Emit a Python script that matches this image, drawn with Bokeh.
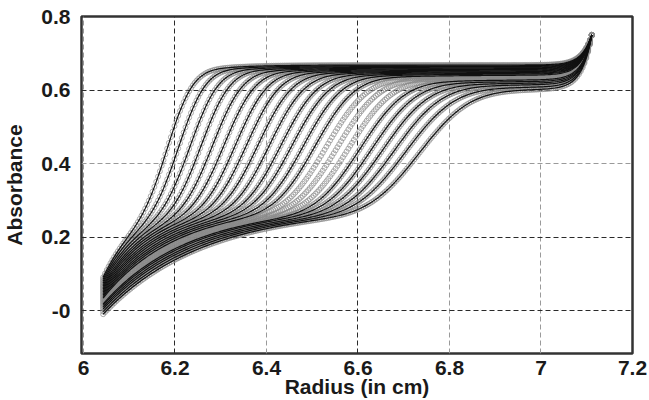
import math
import numpy as np
from bokeh.plotting import figure
from bokeh.models import ColumnDataSource, FixedTicker, Grid, CustomJSTickFormatter
from bokeh.embed import file_html
from bokeh.resources import INLINE

# ---- per-scan values (23 velocity scans) ----
boundary_mid = [6.185, 6.210, 6.235, 6.259, 6.284, 6.309, 6.334, 6.358, 6.383, 6.408,
                6.433, 6.457, 6.482, 6.507, 6.532, 6.556, 6.581, 6.606, 6.631, 6.655,
                6.680, 6.705, 6.735]
boundary_width = [0.060, 0.063, 0.066, 0.068, 0.071, 0.074, 0.076, 0.079, 0.082, 0.084,
                  0.087, 0.090, 0.092, 0.095, 0.098, 0.100, 0.103, 0.106, 0.108, 0.111,
                  0.114, 0.117, 0.120]
plateau_abs = [0.668, 0.666, 0.664, 0.662, 0.660, 0.658, 0.656, 0.654, 0.652, 0.650,
               0.648, 0.646, 0.644, 0.641, 0.638, 0.635, 0.632, 0.629, 0.625, 0.621,
               0.617, 0.611, 0.605]
meniscus_abs = [0.090, 0.085, 0.080, 0.075, 0.070, 0.066, 0.062, 0.058, 0.054, 0.050,
                0.046, 0.042, 0.038, 0.034, 0.030, 0.026, 0.022, 0.018, 0.014, 0.009,
                0.004, -0.003, -0.010]
slow_level = [0.300, 0.299, 0.298, 0.297, 0.296, 0.295, 0.294, 0.293, 0.292, 0.291,
              0.290, 0.289, 0.288, 0.287, 0.286, 0.285, 0.284, 0.283, 0.283, 0.282,
              0.281, 0.281, 0.280]
slow_scale = [0.080, 0.086, 0.093, 0.099, 0.106, 0.112, 0.118, 0.125, 0.131, 0.137,
              0.144, 0.150, 0.156, 0.163, 0.169, 0.175, 0.182, 0.188, 0.194, 0.201,
              0.207, 0.214, 0.220]
fit_shown = [True] * 14 + [False] * 3 + [True] * 6

meniscus_r = 6.043
bottom_r = 7.111
bottom_abs = 0.75
sample_step = 0.004

x_ticks = [6, 6.2, 6.4, 6.6, 6.8, 7, 7.2]
y_ticks = [0, 0.2, 0.4, 0.6, 0.8]

# ---- build scans ----
r = np.arange(meniscus_r, bottom_r + 1e-9, sample_step)
pts_x, pts_y, fit_xs, fit_ys = [], [], [], []
for i in range(len(boundary_mid)):
    b, sp, L = meniscus_abs[i], slow_level[i], slow_scale[i]
    P, rf, w = plateau_abs[i], boundary_mid[i], boundary_width[i]
    slow = b + (sp - b) * (1 - np.exp(-(r - meniscus_r) / L))
    fast = (P - sp) * 0.5 * (1 + np.array([math.erf(v) for v in (r - rf) / w]))
    bottom = (bottom_abs - P) * np.exp((r - bottom_r) / 0.022)
    a = slow + fast + bottom
    pts_x.extend(r.tolist())
    pts_y.extend(a.tolist())
    if fit_shown[i]:
        fit_xs.append(r.tolist())
        fit_ys.append(a.tolist())

pts = ColumnDataSource(dict(x=pts_x, y=pts_y))
fits = ColumnDataSource(dict(xs=fit_xs, ys=fit_ys))

p = figure(width=649, height=400, x_range=(5.9957, 7.2), y_range=(-0.117, 0.8),
           output_backend="svg", toolbar_location=None,
           min_border_left=77, min_border_right=17, min_border_top=16, min_border_bottom=47)
p.background_fill_color = "white"
p.border_fill_color = "white"
p.outline_line_color = "#333333"
p.outline_line_width = 2.5
p.xgrid.visible = False
p.ygrid.visible = False

dark, light = "#2a2a2a", "#9a9a9a"
for dim, ticks, col in [(0, [6.2, 6.6], dark), (0, [6, 6.4, 6.8, 7], light),
                        (1, [0, 0.2, 0.6], dark), (1, [0.4], light)]:
    g = Grid(dimension=dim, ticker=FixedTicker(ticks=ticks),
             grid_line_color=col, grid_line_dash="5 3", grid_line_width=1)
    p.add_layout(g)

p.scatter("x", "y", source=pts, marker="circle", size=5, fill_color=None,
          line_color="#8a8a8a", line_width=0.7)
p.multi_line("xs", "ys", source=fits, line_color="#111111", line_width=1.2)

fmt = CustomJSTickFormatter(code="""
    if (Math.abs(tick) < 1e-9) { return "-0"; }
    return String(Math.round(tick * 10) / 10);
""")
for ax in (p.xaxis[0], p.yaxis[0]):
    ax.formatter = fmt
    ax.major_tick_line_color = None
    ax.minor_tick_line_color = None
    ax.axis_line_color = None
    ax.major_label_text_font = "Liberation Sans"
    ax.major_label_text_font_size = "21px"
    ax.major_label_text_font_style = "bold"
    ax.major_label_text_color = "#1a1a1a"
    ax.major_label_text_line_height = 1.0
    ax.axis_label_text_font = "Liberation Sans"
    ax.axis_label_text_font_size = "21px"
    ax.axis_label_text_font_style = "bold"
    ax.axis_label_text_color = "#1a1a1a"
    ax.axis_label_text_line_height = 1.0

p.xaxis.ticker = FixedTicker(ticks=x_ticks)
p.yaxis.ticker = FixedTicker(ticks=y_ticks)
p.xaxis.axis_label = "Radius (in cm)"
p.yaxis.axis_label = "Absorbance"
p.xaxis.major_label_standoff = 1
p.xaxis.axis_label_standoff = -3
p.yaxis.major_label_standoff = 5
p.yaxis.axis_label_standoff = 12

open("out.html", "w").write(file_html(p, INLINE))
